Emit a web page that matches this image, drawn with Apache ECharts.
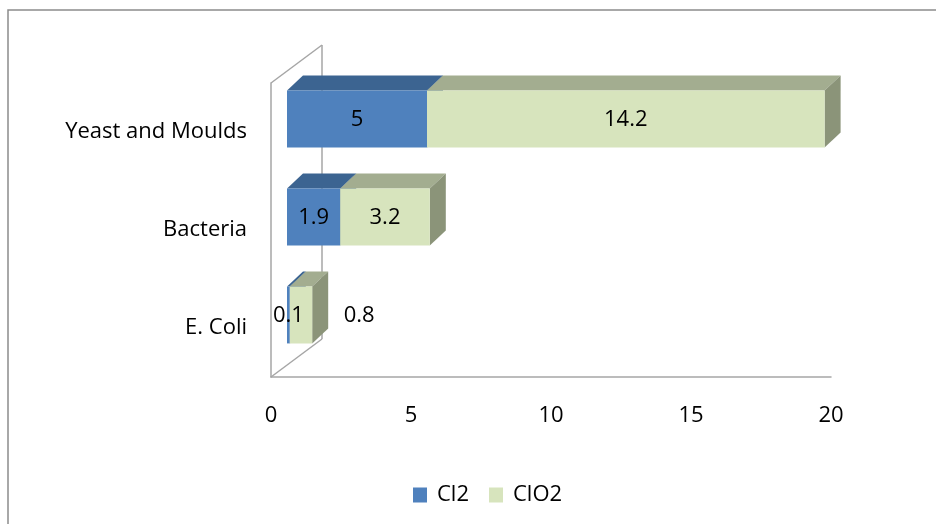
<!DOCTYPE html>
<html>
<head>
<meta charset="utf-8">
<script src="https://cdn.jsdelivr.net/npm/echarts@6/dist/echarts.min.js"></script>
<style>html,body{margin:0;padding:0;background:#fff}#c{width:936px;height:524px}</style>
</head>
<body>
<div id="c"></div>
<script>
var categories = ['E. Coli', 'Bacteria', 'Yeast and Moulds'];
var cl2Values = [0.1, 1.9, 5];
var clo2Values = [0.8, 3.2, 14.2];
var xTicks = [0, 5, 10, 15, 20];

var FONT = '"Open Sans"';
var FS = 22;
var FRONT = [16, -13];   // shift of bar front face from front plane
var DEPTH = [16, -15];   // bar depth
var WALL = [51, -38];    // full depth of wall

var cl2Data = cl2Values.map(function (v, i) { return [0, v, i, v]; });
var clo2Data = clo2Values.map(function (v, i) { return [cl2Values[i], cl2Values[i] + v, i, v]; });

function bar3d(colors, isLast) {
  return function (params, api) {
    var s = api.value(0), e = api.value(1), c = api.value(2), v = api.value(3);
    var p0 = api.coord([s, c]), p1 = api.coord([e, c]);
    var band = api.size([0, 1])[1];
    var h = band * 0.58;
    var x0 = p0[0] + FRONT[0], x1 = p1[0] + FRONT[0];
    var yT = p0[1] - h / 2 + FRONT[1], yB = yT + h;
    var dx = DEPTH[0], dy = DEPTH[1];
    var children = [
      { type: 'polygon', shape: { points: [[x0, yT], [x0 + dx, yT + dy], [x1 + dx, yT + dy], [x1, yT]] }, style: { fill: colors.top } },
      { type: 'polygon', shape: { points: [[x1, yT], [x1 + dx, yT + dy], [x1 + dx, yB + dy], [x1, yB]] }, style: { fill: colors.side } },
      { type: 'rect', shape: { x: x0, y: yT, width: Math.max(x1 - x0, 1), height: h }, style: { fill: colors.front } }
    ];
    var lx = (x0 + x1) / 2;
    if (isLast && (x1 - x0) < 30) lx = x1 + 47;
    children.push({ type: 'text', x: lx, y: (yT + yB) / 2 + 1, style: { text: String(v), fill: '#000', font: FS + 'px ' + FONT, align: 'center', verticalAlign: 'middle' }, z2: 10 });
    return { type: 'group', children: children };
  };
}

var chart = echarts.init(document.getElementById('c'));
chart.setOption({
  animation: false,
  backgroundColor: '#fff',
  graphic: [{ type: 'rect', shape: { x: 8, y: 10, width: 1000, height: 600 }, style: { fill: 'none', stroke: '#8c8c8c', lineWidth: 1.5 }, silent: true }],
  grid: { left: 271, right: 105, top: 83, bottom: 147, containLabel: false },
  xAxis: {
    type: 'value', min: xTicks[0], max: xTicks[xTicks.length - 1], interval: xTicks[1] - xTicks[0],
    splitLine: { show: false }, axisTick: { show: false },
    axisLine: { show: true, lineStyle: { color: '#a6a6a6', width: 1.5 } },
    axisLabel: { margin: 28, fontFamily: FONT, fontSize: FS, color: '#000' }
  },
  yAxis: {
    type: 'category', data: categories,
    axisTick: { show: false }, splitLine: { show: false },
    axisLine: { show: true, lineStyle: { color: '#a6a6a6', width: 1.5 } },
    axisLabel: { margin: 24, fontFamily: FONT, fontSize: FS, color: '#000' }
  },
  legend: {
    data: ['Cl2', 'ClO2'], top: 479, left: 408, icon: 'rect', itemWidth: 14, itemHeight: 15, itemGap: 20,
    textStyle: { fontFamily: FONT, fontSize: FS, color: '#000', padding: [0, 0, 0, 5] }
  },
  series: [
    {
      type: 'custom', name: 'wall', silent: true, data: [[0, 0, 0]],
      encode: { x: 0, y: 2 },
      renderItem: function (params, api) {
        var cs = params.coordSys;
        var x = cs.x, y = cs.y, h = cs.height;
        var st = { stroke: '#a6a6a6', lineWidth: 1.5, fill: 'none' };
        return { type: 'group', children: [
          { type: 'line', shape: { x1: x, y1: y, x2: x + WALL[0], y2: y + WALL[1] }, style: st },
          { type: 'line', shape: { x1: x + WALL[0], y1: y + WALL[1], x2: x + WALL[0], y2: y + h + WALL[1] }, style: st },
          { type: 'line', shape: { x1: x, y1: y + h, x2: x + WALL[0], y2: y + h + WALL[1] }, style: st }
        ] };
      }
    },
    {
      type: 'custom', name: 'Cl2', data: cl2Data, encode: { x: [0, 1], y: 2 },
      itemStyle: { color: '#4F81BD' },
      renderItem: bar3d({ front: '#4F81BD', top: '#3C6491', side: '#3C6491' }, false)
    },
    {
      type: 'custom', name: 'ClO2', data: clo2Data, encode: { x: [0, 1], y: 2 },
      itemStyle: { color: '#D7E4BD' },
      renderItem: bar3d({ front: '#D7E4BD', top: '#A3AD90', side: '#8B9479' }, true)
    }
  ]
});
</script>
</body>
</html>
